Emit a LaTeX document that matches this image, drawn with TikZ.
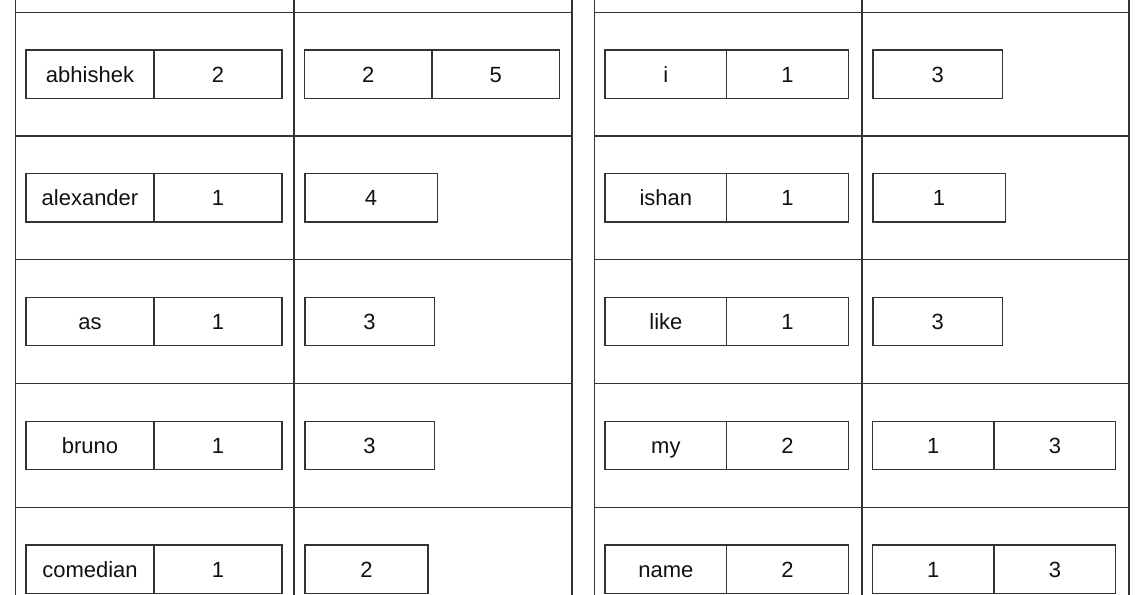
\documentclass[tikz,border=0pt]{standalone}
\usepackage{fontspec}
\setmainfont{Liberation Sans}
\definecolor{linec}{HTML}{333333}
\definecolor{textc}{HTML}{111111}
\begin{document}
\begin{tikzpicture}[x=0.75pt,y=-0.75pt,
  cell/.style={draw=linec,line width=0.9pt,rectangle,inner sep=0pt,
    minimum height=36.3pt,text height=11.8pt,text depth=0pt,
    text=textc,font=\fontsize{16.5}{18}\selectfont},
  keyL/.style={cell,minimum width=96pt},
  keyR/.style={cell,minimum width=91.3pt},
  postL/.style={cell,minimum width=95.6pt},
  postR/.style={cell,minimum width=91.3pt},
  single/.style={cell,anchor=west,minimum width=#1},
  gridline/.style={draw=linec,line width=0.9pt}]
\useasboundingbox (0,0) rectangle (1140,595);
\clip (0,0) rectangle (1140,595);
\fill[white] (0,0) rectangle (1140,595);
% table grids
\foreach \y in {12.3,136.05,259.8,383.55,507.3} {
  \draw[gridline] (15.5,\y) -- (572,\y);
  \draw[gridline] (594.5,\y) -- (1129,\y);
}
\foreach \x in {15.5,294,572,594.5,862,1129} {
  \draw[gridline] (\x,-5) -- (\x,600);
}
% left table, key column
\node[keyL] (lk1) at (90,74.2) {abhishek};   \node[keyL] (lc1) at (217.9,74.2) {2};
\node[keyL] (lk2) at (90,197.9) {alexander}; \node[keyL] (lc2) at (217.9,197.9) {1};
\node[keyL] (lk3) at (90,321.7) {as};        \node[keyL] (lc3) at (217.9,321.7) {1};
\node[keyL] (lk4) at (90,445.4) {bruno};     \node[keyL] (lc4) at (217.9,445.4) {1};
\node[keyL] (lk5) at (90,569.2) {comedian};  \node[keyL] (lc5) at (217.9,569.2) {1};
% left table, postings column
\node[postL] (lp1a) at (368.2,74.2) {2}; \node[postL] (lp1b) at (495.7,74.2) {5};
\node[single=99.3pt] (lp2) at (304.3,197.9) {4};
\node[single=97.05pt] (lp3) at (304.3,321.7) {3};
\node[single=97.05pt] (lp4) at (304.3,445.4) {3};
\node[single=92.25pt] (lp5) at (304.3,569.2) {2};
% right table, key column
\node[keyR] (rk1) at (665.9,74.2) {i};     \node[keyR] (rc1) at (787.5,74.2) {1};
\node[keyR] (rk2) at (665.9,197.9) {ishan}; \node[keyR] (rc2) at (787.5,197.9) {1};
\node[keyR] (rk3) at (665.9,321.7) {like};  \node[keyR] (rc3) at (787.5,321.7) {1};
\node[keyR] (rk4) at (665.9,445.4) {my};    \node[keyR] (rc4) at (787.5,445.4) {2};
\node[keyR] (rk5) at (665.9,569.2) {name};  \node[keyR] (rc5) at (787.5,569.2) {2};
% right table, postings column
\node[single=97.3pt] (rp1) at (872.3,74.2) {3};
\node[single=99.3pt] (rp2) at (872.3,197.9) {1};
\node[single=97.3pt] (rp3) at (872.3,321.7) {3};
\node[postR] (rp4a) at (933.2,445.4) {1}; \node[postR] (rp4b) at (1054.9,445.4) {3};
\node[postR] (rp5a) at (933.2,569.2) {1}; \node[postR] (rp5b) at (1054.9,569.2) {3};
\end{tikzpicture}
\end{document}
